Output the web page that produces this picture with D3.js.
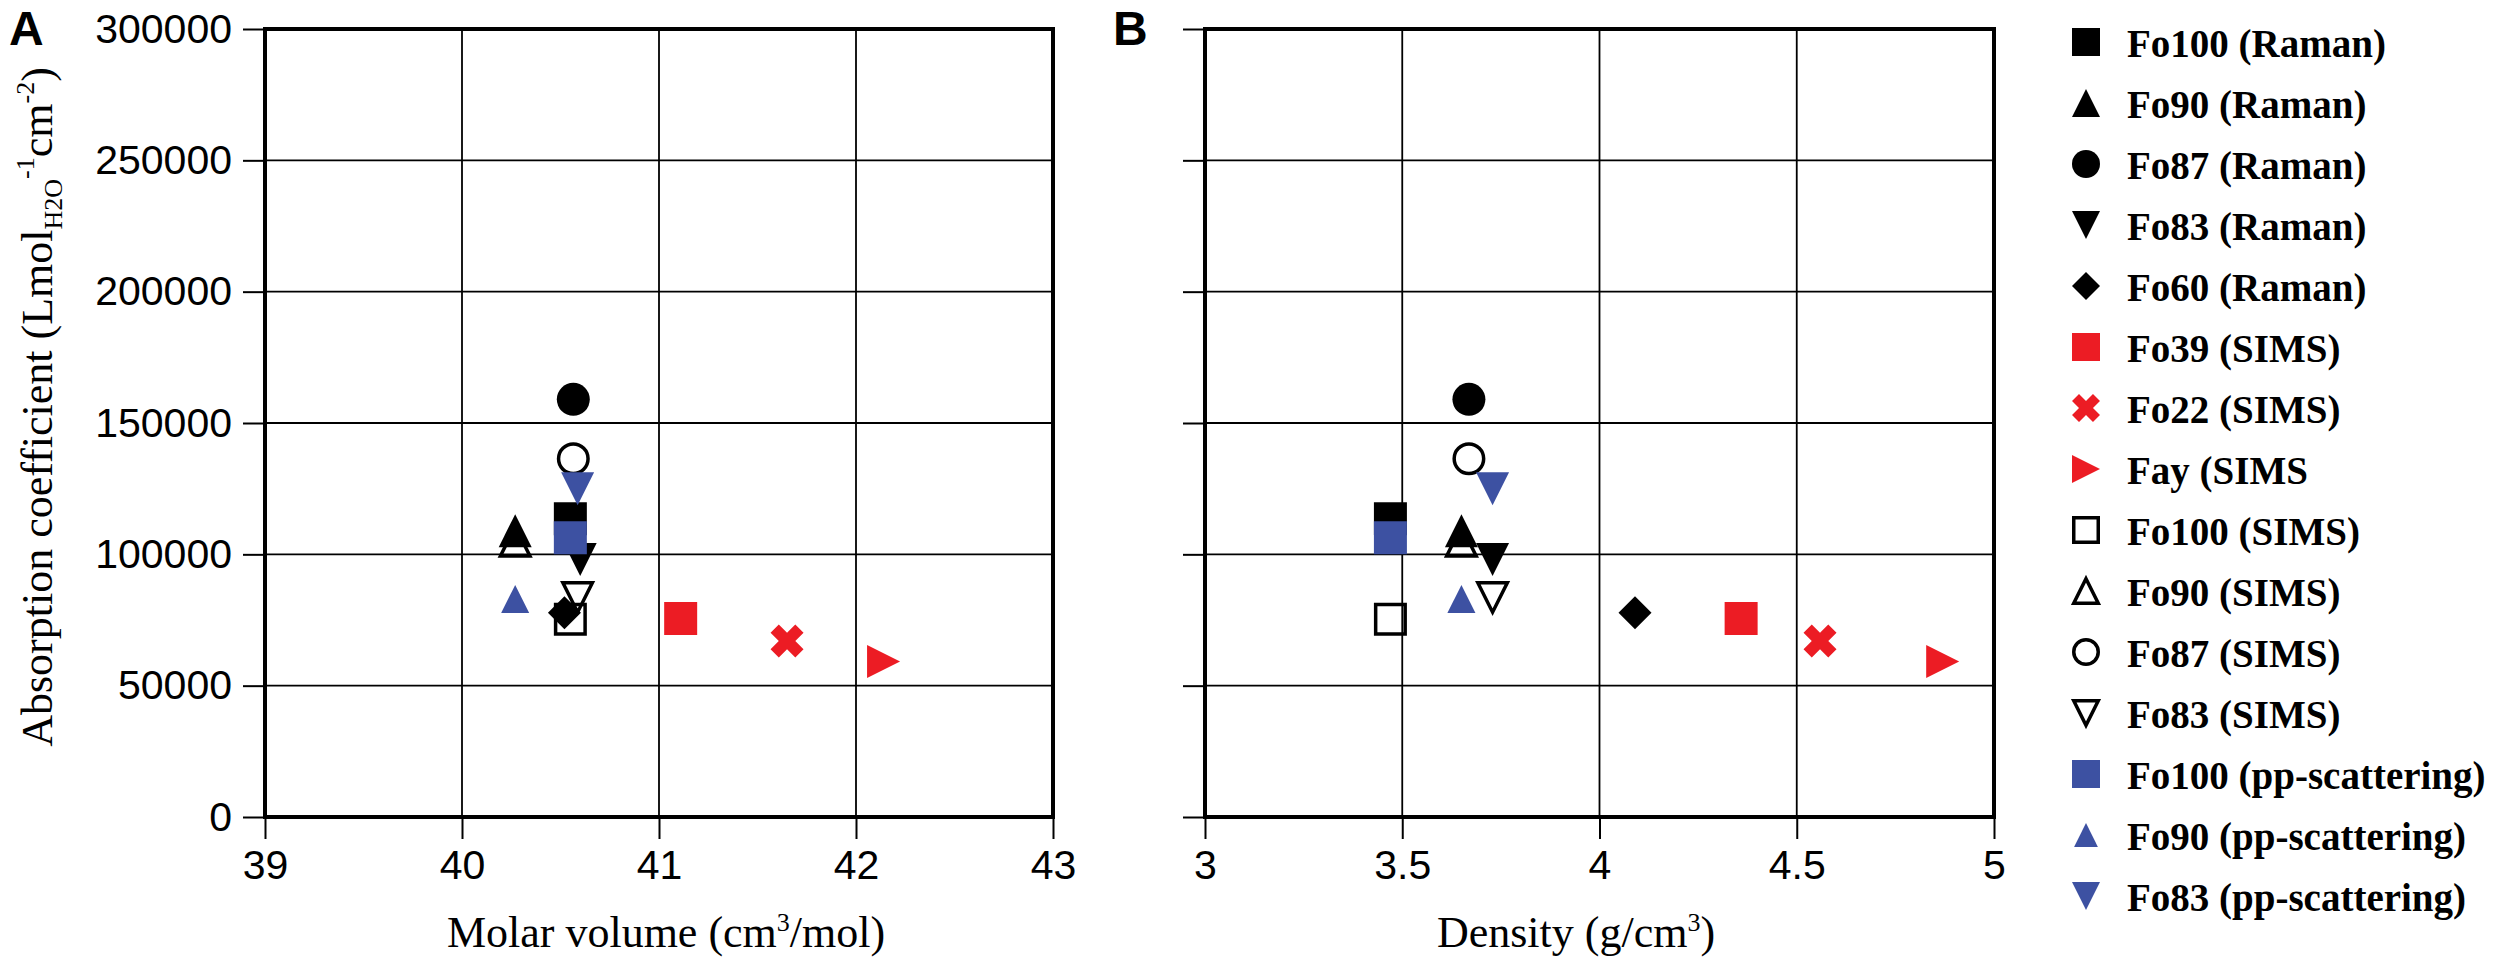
<!DOCTYPE html>
<html>
<head>
<meta charset="utf-8">
<script src="https://cdn.jsdelivr.net/npm/d3@7"></script>
<style>
  body { margin: 0; background: #fff; }
  .tick text { font-family: "Liberation Sans", Arial, sans-serif; font-size: 41px; fill: #000; }
  .tick line { stroke: #000; stroke-width: 2; }
</style>
</head>
<body>
<svg class="chart" width="2500" height="970"></svg>
<script>
// legend / series order
var seriesNames = [
    "Fo100 (Raman)", "Fo90 (Raman)", "Fo87 (Raman)", "Fo83 (Raman)", "Fo60 (Raman)",
    "Fo39 (SIMS)", "Fo22 (SIMS)", "Fay (SIMS",
    "Fo100 (SIMS)", "Fo90 (SIMS)", "Fo87 (SIMS)", "Fo83 (SIMS)",
    "Fo100 (pp-scattering)", "Fo90 (pp-scattering)", "Fo83 (pp-scattering)"
];
var molarVolume = [40.55, 40.27, 40.565, 40.60, 40.52, 41.11, 41.65, 42.14,
                   40.55, 40.27, 40.565, 40.587, 40.55, 40.27, 40.587];
var density = [3.47, 3.65, 3.669, 3.729, 4.09, 4.359, 4.559, 4.87,
               3.47, 3.65, 3.669, 3.729, 3.47, 3.65, 3.729];
var absorption = [113500, 109000, 159000, 98000, 77800, 75600, 67000, 59200,
                  75300, 105000, 136400, 83600, 106300, 83000, 125000];

var yTicks = [0, 50000, 100000, 150000, 200000, 250000, 300000];
var xTicksA = [39, 40, 41, 42, 43];
var xTicksB = [3, 3.5, 4, 4.5, 5];

// marker look for each series (same order as seriesNames)
var RED = "#ec1c24", BLUE = "#3d51a2";
var markerStyle = [
    { shape: "square", fill: "#000" }, { shape: "up", fill: "#000" },
    { shape: "circle", fill: "#000" }, { shape: "down", fill: "#000" },
    { shape: "diamond", fill: "#000" },
    { shape: "square", fill: RED }, { shape: "cross", fill: RED }, { shape: "right", fill: RED },
    { shape: "square", open: true }, { shape: "up", open: true },
    { shape: "circle", open: true }, { shape: "down", open: true },
    { shape: "square", fill: BLUE }, { shape: "up", fill: BLUE, small: true },
    { shape: "down", fill: BLUE }
];
// open SIMS first, then Raman, red SIMS, pp-scattering on top
var drawOrder = [8, 9, 10, 11, 0, 1, 2, 3, 4, 5, 6, 7, 12, 13, 14];

var TOP = 29, BOTTOM = 817, TICK = 22;

var svg = d3.select(".chart");
var y = d3.scaleLinear().domain([0, 300000]).range([BOTTOM, TOP]);
var xA = d3.scaleLinear().domain([39, 43]).range([265, 1053]);
var xB = d3.scaleLinear().domain([3, 5]).range([1205, 1994]);

function shapePath(shape, s) {
    var h = s / 2;
    if (shape == "square") return "M" + -h + "," + -h + "H" + h + "V" + h + "H" + -h + "Z";
    if (shape == "up") return "M0," + -h + "L" + h + "," + h + "L" + -h + "," + h + "Z";
    if (shape == "down") return "M" + -h + "," + -h + "L" + h + "," + -h + "L0," + h + "Z";
    if (shape == "right") return "M" + -h + "," + -h + "L" + h + ",0L" + -h + "," + h + "Z";
    if (shape == "diamond") return "M0," + -h + "L" + h + ",0L0," + h + "L" + -h + ",0Z";
    if (shape == "circle") return d3.symbol(d3.symbolCircle, Math.PI * h * h)();
    if (shape == "cross") {
        var r = s / 5.66;
        return d3.symbol(d3.symbolCross, 20 * r * r)();
    }
}

function drawMarker(g, i, cx, cy, s) {
    var st = markerStyle[i];
    var size = st.small ? s * 0.85 : s;
    if (st.open) size = size - 3.5;
    var rot = st.shape == "cross" ? " rotate(45)" : "";
    g.append("path")
        .attr("d", shapePath(st.shape, size))
        .attr("transform", "translate(" + cx + "," + cy + ")" + rot)
        .attr("fill", st.open ? "none" : st.fill)
        .attr("stroke", st.open ? "#000" : "none")
        .attr("stroke-width", 3.5);
}

function buildPanel(x, xTicks, xValues, showYLabels) {
    var g = svg.append("g");
    var x0 = x.range()[0], x1 = x.range()[1];

    // grid
    g.selectAll(".hgrid").data(yTicks).enter().append("line")
        .attr("x1", x0).attr("x2", x1)
        .attr("y1", function(d) { return y(d); }).attr("y2", function(d) { return y(d); })
        .attr("stroke", "#000").attr("stroke-width", 1.8);
    g.selectAll(".vgrid").data(xTicks).enter().append("line")
        .attr("y1", TOP).attr("y2", BOTTOM)
        .attr("x1", function(d) { return x(d); }).attr("x2", function(d) { return x(d); })
        .attr("stroke", "#000").attr("stroke-width", 1.8);

    var ya = g.append("g")
        .attr("transform", "translate(" + x0 + ",0)")
        .call(d3.axisLeft(y).tickValues(yTicks).tickSize(TICK).tickPadding(11)
              .tickFormat(showYLabels ? d3.format("d") : ""));
    ya.select(".domain").remove();

    var xa = g.append("g")
        .attr("transform", "translate(0," + BOTTOM + ")")
        .call(d3.axisBottom(x).tickValues(xTicks).tickSize(TICK).tickPadding(11)
              .tickFormat(function(d) { return String(d); }));
    xa.select(".domain").remove();

    // frame
    g.append("rect")
        .attr("x", x0).attr("y", TOP)
        .attr("width", x1 - x0).attr("height", BOTTOM - TOP)
        .attr("fill", "none").attr("stroke", "#000").attr("stroke-width", 4);

    var marks = g.append("g");
    drawOrder.forEach(function(i) {
        drawMarker(marks, i, x(xValues[i]), y(absorption[i]), 33);
    });
}

buildPanel(xA, xTicksA, molarVolume, true);
buildPanel(xB, xTicksB, density, false);

// panel letters
svg.append("text").attr("x", 9).attr("y", 45).text("A")
    .style("font", "bold 48px 'Liberation Sans', Arial, sans-serif");
svg.append("text").attr("x", 1113).attr("y", 45).text("B")
    .style("font", "bold 48px 'Liberation Sans', Arial, sans-serif");

var serif = "'Liberation Serif', 'Times New Roman', serif";

// axis titles
var tA = svg.append("text").attr("x", 666).attr("y", 947).attr("text-anchor", "middle")
    .style("font", "44px " + serif);
tA.append("tspan").text("Molar volume (cm");
tA.append("tspan").attr("dy", -16).style("font-size", "26px").text("3");
tA.append("tspan").attr("dy", 16).text("/mol)");

var tB = svg.append("text").attr("x", 1576).attr("y", 947).attr("text-anchor", "middle")
    .style("font", "44px " + serif);
tB.append("tspan").text("Density (g/cm");
tB.append("tspan").attr("dy", -16).style("font-size", "26px").text("3");
tB.append("tspan").attr("dy", 16).text(")");

var tY = svg.append("text")
    .attr("transform", "translate(52,407) rotate(-90)")
    .attr("text-anchor", "middle")
    .style("font", "44px " + serif);
tY.append("tspan").text("Absorption coefficient (Lmol");
tY.append("tspan").attr("dy", 10).style("font-size", "26px").text("H2O");
tY.append("tspan").attr("dy", -28).style("font-size", "26px").text("-1");
tY.append("tspan").attr("dy", 18).text("cm");
tY.append("tspan").attr("dy", -18).style("font-size", "26px").text("-2");
tY.append("tspan").attr("dy", 18).text(")");

// legend
var legend = svg.append("g");
seriesNames.forEach(function(name, i) {
    var cy = 42 + i * 61;
    drawMarker(legend, i, 2086, cy, 28);
    legend.append("text")
        .attr("x", 2127).attr("y", cy + 15)
        .style("font", "bold 39px " + serif)
        .text(name);
});
</script>
</body>
</html>
